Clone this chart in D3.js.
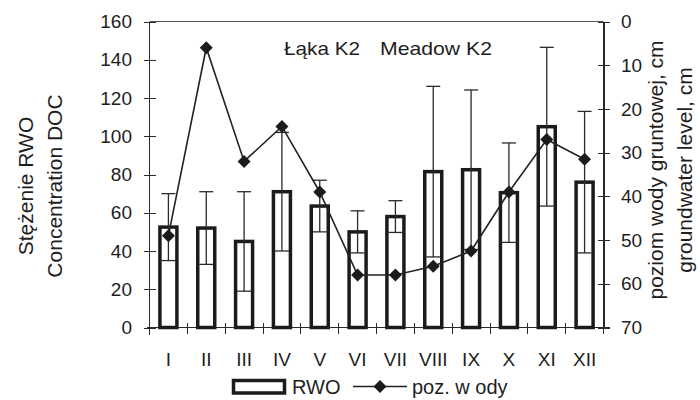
<!DOCTYPE html>
<html>
	<head>
		<meta charset="utf-8">
		<title>RWO - Łąka K2</title>
		<script src="https://cdn.jsdelivr.net/npm/d3@7"></script>
		<style>
			body { margin: 0; background: #fff; }
			.chart text {
				font-family: "Liberation Sans", Arial, sans-serif;
				fill: #1e1e1e;
			}
			.axis path,
			.axis line {
				fill: none;
				stroke: #2a2a2a;
				shape-rendering: crispEdges;
			}
			.axis text { font-size: 19px; }
			.bar { fill: #fff; stroke: #1b1b1b; stroke-width: 3.5; }
			.err { fill: none; stroke: #2a2a2a; stroke-width: 1.3; }
			.water { fill: none; stroke: #222; stroke-width: 1.6; }
			.dot { fill: #1b1b1b; }
		</style>
	</head>
	<body>
		<svg class="chart" width="700" height="400"></svg>

		<script>
		// values
		var months = ["I", "II", "III", "IV", "V", "VI", "VII", "VIII", "IX", "X", "XI", "XII"];
		var rwoMean = [52.5, 52, 45, 71, 63.5, 50, 58, 81.5, 82.5, 70.5, 105, 76];
		var rwoSd = [17.5, 19, 26, 31, 13.5, 11, 8.3, 44.6, 41.7, 26, 41.5, 37];
		var waterLevel = [49, 6, 32, 24, 39, 58, 58, 56, 52.5, 39, 27, 31.5];
		var leftTicks = [0, 20, 40, 60, 80, 100, 120, 140, 160];
		var rightTicks = [0, 10, 20, 30, 40, 50, 60, 70];
		var legendLabels = ["RWO", "poz. w ody"];

		var margin = {top: 21.5, right: 96.5, bottom: 72.5, left: 149.5},
			width = 700 - margin.left - margin.right,
			height = 400 - margin.top - margin.bottom;

		var x = d3.scaleBand()
			.domain(months)
			.range([0, width]);
		var yL = d3.scaleLinear()
			.domain([0, 160])
			.range([height, 0]);
		var yR = d3.scaleLinear()
			.domain([0, 70])
			.range([0, height]);

		var data = months.map(function(m, i) {
			return {month: m, mean: rwoMean[i], sd: rwoSd[i], water: waterLevel[i]};
		});

		var svg = d3.select(".chart");
		var chart = svg.append("g")
			.attr("transform", "translate(" + margin.left + "," + margin.top + ")");

		// frame top line
		chart.append("line")
			.attr("x1", 0).attr("x2", width)
			.attr("y1", 0).attr("y2", 0)
			.attr("stroke", "#555")
			.attr("stroke-width", 1);

		// left axis, ticks cross the line
		var leftAxis = chart.append("g")
			.attr("class", "axis")
			.call(d3.axisLeft(yL).tickValues(leftTicks).tickSizeOuter(0).tickSizeInner(6).tickPadding(11.5));
		leftAxis.selectAll(".tick line").attr("x1", 6);
		leftAxis.select(".domain").attr("d", "M0,0V" + (height + 7));

		var rightAxis = chart.append("g")
			.attr("class", "axis")
			.attr("transform", "translate(" + width + ",0)")
			.call(d3.axisRight(yR).tickValues(rightTicks).tickSizeOuter(0).tickSizeInner(6).tickPadding(11.5));
		rightAxis.selectAll(".tick line").attr("x1", -6);
		rightAxis.select(".domain").attr("stroke-width", 1.5);

		// bottom axis: labels centred, ticks between months
		var bottomAxis = chart.append("g")
			.attr("class", "axis")
			.attr("transform", "translate(0," + height + ")")
			.call(d3.axisBottom(x).tickSize(0).tickPadding(25));
		bottomAxis.select(".domain").attr("d", "M-3,0H" + (width + 6));

		chart.append("g")
			.attr("class", "axis")
			.selectAll("line")
			.data(months.map(function(m){ return x(m); }).concat([width]))
			.enter().append("line")
			.attr("x1", function(d){ return d; })
			.attr("x2", function(d){ return d; })
			.attr("y1", height - 4.5)
			.attr("y2", height + 6.5);

		// bars
		var bw = 17;
		chart.selectAll(".bar")
			.data(data)
			.enter().append("rect")
			.attr("class", "bar")
			.attr("x", function(d){ return x(d.month) + x.bandwidth() / 2 - bw / 2; })
			.attr("y", function(d){ return yL(d.mean); })
			.attr("width", bw)
			.attr("height", function(d){ return height - yL(d.mean); });

		// error bars
		var err = chart.selectAll(".errg")
			.data(data)
			.enter().append("g")
			.attr("class", "err")
			.attr("transform", function(d){ return "translate(" + (x(d.month) + x.bandwidth() / 2) + ",0)"; });
		err.append("line")
			.attr("x1", 0).attr("x2", 0)
			.attr("y1", function(d){ return yL(d.mean - d.sd); })
			.attr("y2", function(d){ return yL(d.mean + d.sd); });
		err.append("line")
			.attr("x1", -7).attr("x2", 7)
			.attr("y1", function(d){ return yL(d.mean + d.sd); })
			.attr("y2", function(d){ return yL(d.mean + d.sd); });
		err.append("line")
			.attr("x1", -7).attr("x2", 7)
			.attr("y1", function(d){ return yL(d.mean - d.sd); })
			.attr("y2", function(d){ return yL(d.mean - d.sd); });

		// groundwater line
		var diamond = "M0,-6.5L6.5,0L0,6.5L-6.5,0Z";
		var line = d3.line()
			.x(function(d){ return x(d.month) + x.bandwidth() / 2; })
			.y(function(d){ return yR(d.water); });
		chart.append("path")
			.datum(data)
			.attr("class", "water")
			.attr("d", line);
		chart.selectAll(".dot")
			.data(data)
			.enter().append("path")
			.attr("class", "dot")
			.attr("d", diamond)
			.attr("transform", function(d){
				return "translate(" + (x(d.month) + x.bandwidth() / 2) + "," + yR(d.water) + ")";
			});

		// title inside plot
		svg.append("text")
			.attr("x", 284).attr("y", 55)
			.attr("font-size", 18.5)
			.attr("textLength", 76)
			.attr("lengthAdjust", "spacingAndGlyphs")
			.text("Łąka K2");
		svg.append("text")
			.attr("x", 380).attr("y", 55)
			.attr("font-size", 18.5)
			.attr("textLength", 112)
			.attr("lengthAdjust", "spacingAndGlyphs")
			.text("Meadow K2");

		// axis titles
		var lt = svg.append("g")
			.attr("transform", "translate(33,186) rotate(-90)")
			.attr("text-anchor", "middle")
			.attr("font-size", 21);
		lt.append("text").attr("y", 0).text("Stężenie RWO");
		lt.append("text").attr("y", 29).text("Concentration DOC");

		var rt = svg.append("g")
			.attr("transform", "translate(663,170) rotate(-90)")
			.attr("text-anchor", "middle")
			.attr("font-size", 21);
		rt.append("text").attr("y", 0).text("poziom wody gruntowej, cm");
		rt.append("text").attr("y", 29).text("groundwater level, cm");

		// legend
		var legend = svg.append("g").attr("font-size", 20);
		legend.append("rect")
			.attr("class", "bar")
			.attr("x", 233.5).attr("y", 380.5)
			.attr("width", 51).attr("height", 12.5);
		legend.append("text")
			.attr("x", 292).attr("y", 394)
			.text(legendLabels[0]);
		legend.append("line")
			.attr("class", "water")
			.attr("x1", 353).attr("x2", 407)
			.attr("y1", 386.5).attr("y2", 386.5);
		legend.append("path")
			.attr("class", "dot")
			.attr("d", diamond)
			.attr("transform", "translate(380,386.5)");
		legend.append("text")
			.attr("x", 412).attr("y", 394)
			.text(legendLabels[1]);
		</script>
	</body>
</html>
